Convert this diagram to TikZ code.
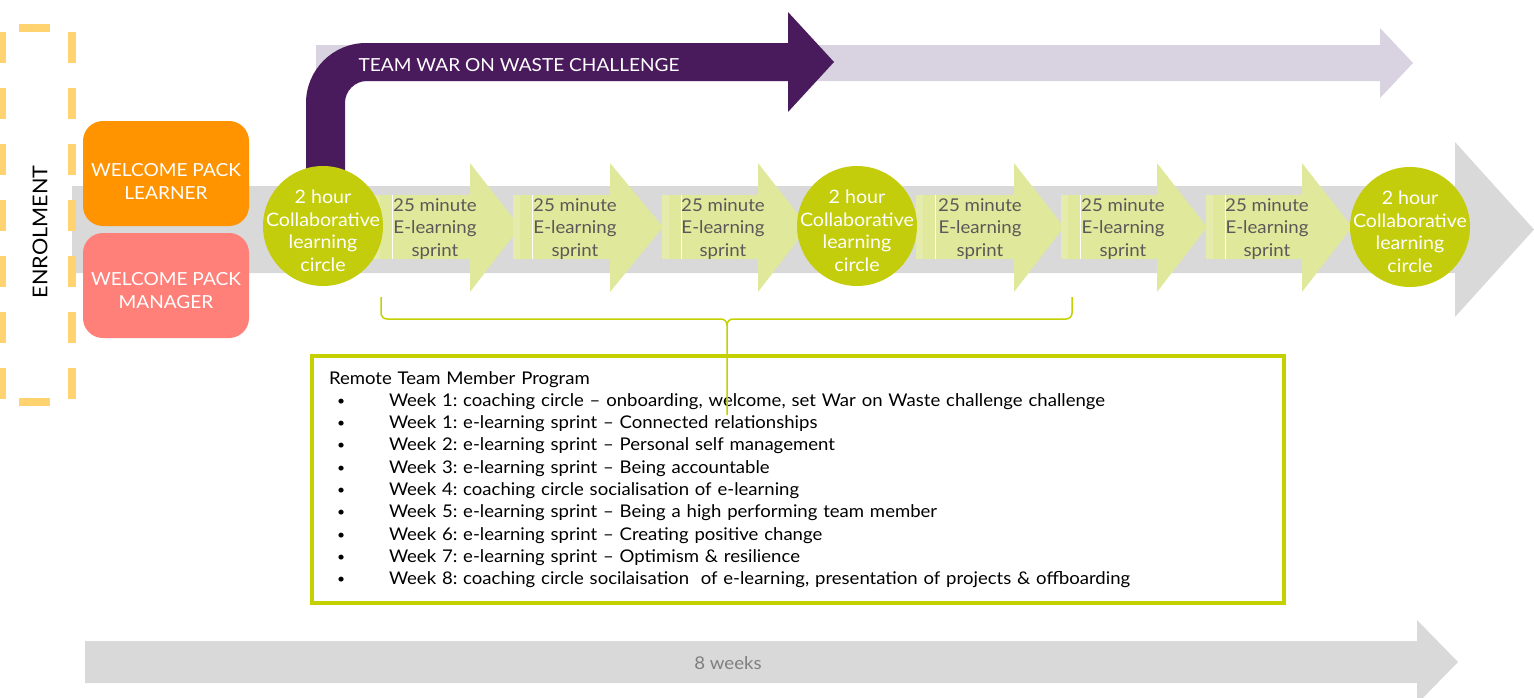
\documentclass[tikz,border=0pt]{standalone}
\usepackage{xcolor}
\usepackage{graphicx}
\usepackage{tikz}
\usepackage{fontspec}
\setmainfont{Lato}[FakeStretch=1.06]
\frenchspacing

\definecolor{wowpurple}{HTML}{4A1B5C}
\definecolor{wowlilac}{HTML}{D9D2E0}
\definecolor{bandgrey}{HTML}{D9D9D9}
\definecolor{circlegreen}{HTML}{C3CD0C}
\definecolor{sprintgreen}{HTML}{E0E89B}
\definecolor{packorange}{HTML}{FF9300}
\definecolor{packsalmon}{HTML}{FF7F79}
\definecolor{enrolyellow}{HTML}{FFD470}
\definecolor{boxgreen}{HTML}{C5D000}
\definecolor{sprinttext}{HTML}{595959}
\definecolor{weekstext}{HTML}{7F7F7F}

\newcommand{\wkitem}{\hspace*{8pt}\makebox[52pt][l]{\raisebox{1pt}{\scalebox{0.75}{\textbullet}}}}

\begin{document}
\begin{tikzpicture}[x=1pt, y=-1pt,
  pack/.style={rounded corners=20pt, minimum width=166pt, minimum height=105pt,
    text=white, align=center, inner sep=0pt, font=\fontsize{18}{22.5}\selectfont},
  learncircle/.style={circle, fill=circlegreen, minimum size=120pt, inner sep=0pt},
  circletxt/.style={text=white, align=center, inner sep=0pt, font=\fontsize{18.5}{22.5}\selectfont},
  sprinttxt/.style={text=sprinttext, align=center, font=\fontsize{17.6}{22.5}\selectfont},
  enroldash/.style={draw=enrolyellow, line width=8pt, dash pattern=on 31pt off 25pt},
  bracelink/.style={draw=boxgreen, line width=1.5pt},
  progbox/.style={draw=boxgreen, line width=4pt, text width=938pt, inner xsep=17pt,
    minimum height=247pt, align=left, font=\fontsize{17.5}{22.3}\selectfont}]

\useasboundingbox (0,0) rectangle (1534,697);
\clip (0,0) rectangle (1534,697);

% main time line
\fill[bandgrey] (72,186)--(1455,186)--(1455,142)--(1534,229.5)--(1455,317)--(1455,273)--(72,273)--cycle;

% war on waste
\fill[wowlilac] (316,45)--(1380,45)--(1380,28)--(1413,63)--(1380,98)--(1380,81)--(316,81)--cycle;
\fill[wowpurple] (306,180)--(306,103) arc[start angle=180, end angle=270, radius=60]--
  (788,43)--(788,12)--(834,62)--(788,112)--(788,81)--
  (367,81) arc[start angle=270, end angle=180, radius=22]--(345,180)--cycle;
\node (wow) [anchor=west, text=white, font=\fontsize{18}{22}\selectfont] at (355,65) {TEAM WAR ON WASTE CHALLENGE};

\fill[bandgrey] (85,641)--(1417,641)--(1417,620)--(1458,662)--(1417,704)--(1417,683)--(85,683)--cycle;
\node (weeks) [text=weekstext, font=\fontsize{17.6}{20}\selectfont] at (728,663) {8 weeks};

% enrolment
\draw[enroldash] (2,32)--(2,402);
\draw[enroldash] (72,32)--(72,402);
\draw[enroldash] (19,28)--(51,28);
\draw[enroldash] (19,402)--(51,402);
\node (enrol) [rotate=90, font=\fontsize{20.4}{24}\selectfont] at (40,232) {ENROLMENT};

\node (learner) [pack, fill=packorange] at (166,173.5) {\rule{0pt}{29pt}WELCOME PACK\\LEARNER};
\node (manager) [pack, fill=packsalmon] at (166,285.5) {\rule{0pt}{23pt}WELCOME PACK\\MANAGER};

\foreach \s/\b/\t/\m [count=\i] in {373/470/520/435, 513/610/663/575, 662/758/808/723,
    916/1014/1064/980, 1061/1157/1207/1123, 1206/1302/1352/1267}{
	\fill[sprintgreen] (\s,195)--(\b,195)--(\b,163)--(\t,227)--(\b,292)--(\b,259)--(\s,259)--cycle;
	\fill[sprintgreen!85!white] (\s,195) rectangle (\s+7,259);
	\draw[white, line width=0.6pt] (\s+19,195)--(\s+19,259);
	\node (sprint\i) [sprinttxt] at (\m,229) {25 minute\\E-learning\\sprint};
}

\foreach \x/\y [count=\i] in {323/226, 857/226, 1410/227}{
	\node (circ\i) [learncircle] at (\x,\y) {};
	\node (circtxt\i) [circletxt] at ([yshift=-4.5pt]circ\i.center) {2 hour\\Collaborative\\learning\\circle};
}

\node (prog) [progbox, anchor=north west] at (310,354) {Remote Team Member Program\\
\wkitem Week 1: coaching circle -- onboarding, welcome, set War on Waste challenge challenge\\
\wkitem Week 1: e-learning sprint -- Connected relationships\\
\wkitem Week 2: e-learning sprint -- Personal self management\\
\wkitem Week 3: e-learning sprint -- Being accountable\\
\wkitem Week 4: coaching circle socialisation of e-learning\\
\wkitem Week 5: e-learning sprint -- Being a high performing team member\\
\wkitem Week 6: e-learning sprint -- Creating positive change\\
\wkitem Week 7: e-learning sprint -- Optimism \& resilience\\
\wkitem Week 8: coaching circle socilaisation\ \ of e-learning, presentation of projects \& offboarding};

% brace from the sprints down to the program
\coordinate (bl) at (381,297);
\coordinate (br) at (1072,297);
\coordinate (tail) at (727,415);
\draw[bracelink] (bl)--(381,313) arc[start angle=180, end angle=90, radius=6]--
  (721,319) arc[start angle=270, end angle=360, radius=6]--(tail);
\draw[bracelink] (br)--(1072,313) arc[start angle=0, end angle=90, radius=6]--
  (733,319) arc[start angle=270, end angle=180, radius=6];

\end{tikzpicture}
\end{document}
